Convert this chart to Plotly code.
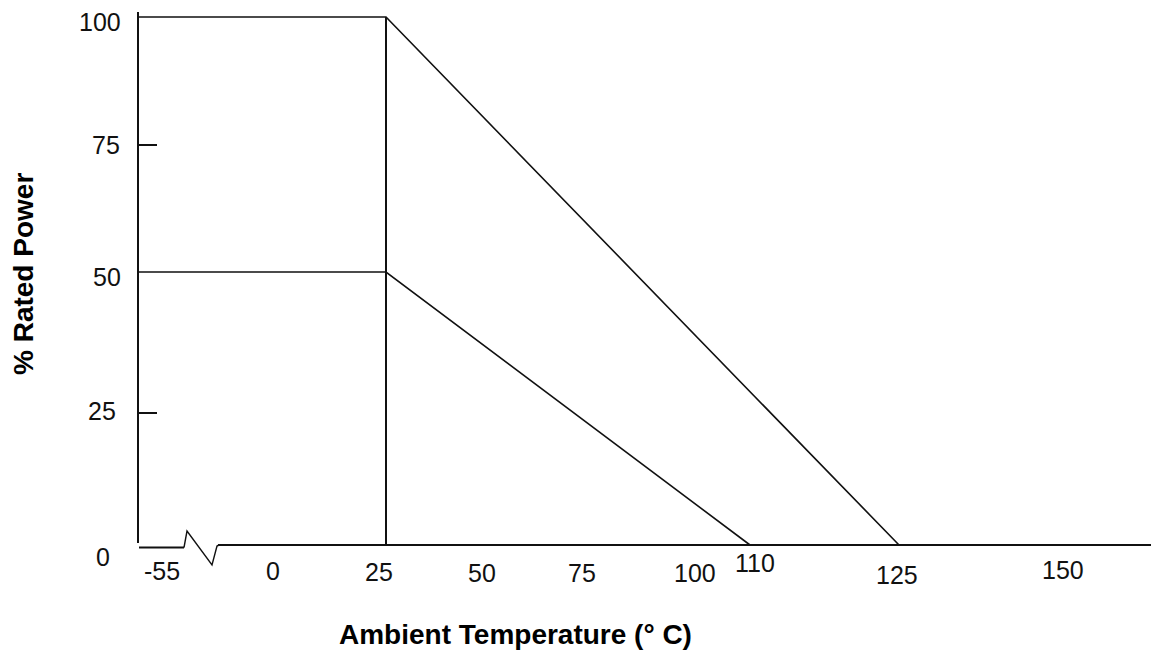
import numpy as np
import plotly.graph_objects as go

# Power derating curves: ambient temperature (deg C) vs. % of rated power
temp_full = [-55, 25, 125]
power_full = [100, 100, 0]
temp_half = [-55, 25, 110]
power_half = [50, 50, 0]
# Rated-temperature marker line
temp_rated = [25, 25]
power_rated = [0, 100]

x_tick_temps = [-55, 0, 25, 50, 75, 100, 110, 125, 150]
x_tick_text = ["-55", "0", "25", "50", "75", "100", "110", "125", "150"]
y_tick_power = [0, 25, 50, 75, 100]
y_tick_text = ["0", "25", "50", "75", "100"]

# The temperature axis is broken and unevenly spaced, so every tick value
# gets its own position along the axis (canvas pixels); same for power.
X_SCALE_POS = [138, 273, 386, 482, 582, 695, 750, 899, 1063]
Y_SCALE_POS = [545, 413, 272, 145, 17]

# Tick label placement (canvas pixels)
X_LABEL_X = [162, 273, 379, 482, 582, 695, 755, 897, 1063]
X_LABEL_Y = [571, 571, 572, 573, 573, 573, 563, 575, 570]
Y_LABEL_RIGHT = [112, 118, 123, 122, 123]
Y_LABEL_Y = [557, 411, 277, 145, 22]

W, H = 1151, 656
INK = "#111111"
LABEL_FONT = dict(family="Liberation Sans, Arial, sans-serif", size=25, color=INK)
TITLE_FONT = dict(family="Liberation Sans, Arial, sans-serif", size=28, color="#000000")


def sx(t):
    return np.interp(t, x_tick_temps, X_SCALE_POS)


def sy(p):
    return np.interp(p, y_tick_power, Y_SCALE_POS)


fig = go.Figure()
for temps, powers, width in [(temp_full, power_full, 1.6),
                             (temp_half, power_half, 1.6),
                             (temp_rated, power_rated, 2.0)]:
    fig.add_trace(go.Scatter(x=sx(temps), y=sy(powers), mode="lines",
                             line=dict(color=INK, width=width),
                             hoverinfo="skip", showlegend=False))

shapes = []
x0 = X_SCALE_POS[0]
y0 = Y_SCALE_POS[0]
# vertical (power) axis with short inside ticks
shapes.append(dict(type="line", x0=x0, x1=x0, y0=12, y1=y0 - 2,
                   line=dict(color=INK, width=2)))
for p in [25, 75]:
    shapes.append(dict(type="line", x0=x0, x1=x0 + 19, y0=float(sy(p)), y1=float(sy(p)),
                       line=dict(color=INK, width=2)))
# horizontal (temperature) axis with break symbol
shapes.append(dict(type="line", x0=x0 + 1, x1=184, y0=y0 + 2.5, y1=y0 + 2.5,
                   line=dict(color=INK, width=2)))
shapes.append(dict(type="path", path="M 184 547.5 L 187 531 L 212 565 L 217 546 L 219 545",
                   line=dict(color=INK, width=1.4)))
shapes.append(dict(type="line", x0=218, x1=W, y0=y0, y1=y0,
                   line=dict(color=INK, width=2)))
for s in shapes:
    s.update(xref="x", yref="y", layer="above")

annotations = []
for txt, x, y in zip(x_tick_text, X_LABEL_X, X_LABEL_Y):
    annotations.append(dict(x=x, y=y, text=txt, showarrow=False, xanchor="center",
                            yanchor="middle", font=LABEL_FONT))
for txt, x, y in zip(y_tick_text, Y_LABEL_RIGHT, Y_LABEL_Y):
    annotations.append(dict(x=x, y=y, text=txt, showarrow=False, xanchor="right",
                            yanchor="middle", font=LABEL_FONT))
annotations.append(dict(x=515, y=634, text="<b>Ambient Temperature (° C)</b>",
                        showarrow=False, xanchor="center", yanchor="middle", font=TITLE_FONT))
annotations.append(dict(x=23, y=274, text="<b>% Rated Power</b>", textangle=-90,
                        showarrow=False, xanchor="center", yanchor="middle", font=TITLE_FONT))
for a in annotations:
    a.update(xref="x", yref="y")

fig.update_layout(
    width=W, height=H,
    margin=dict(l=0, r=0, t=0, b=0),
    paper_bgcolor="white", plot_bgcolor="white",
    xaxis=dict(range=[0, W], visible=False, fixedrange=True),
    yaxis=dict(range=[H, 0], visible=False, fixedrange=True),
    shapes=shapes, annotations=annotations,
    showlegend=False,
)

fig.write_html("out.html", config={"displayModeBar": False})
